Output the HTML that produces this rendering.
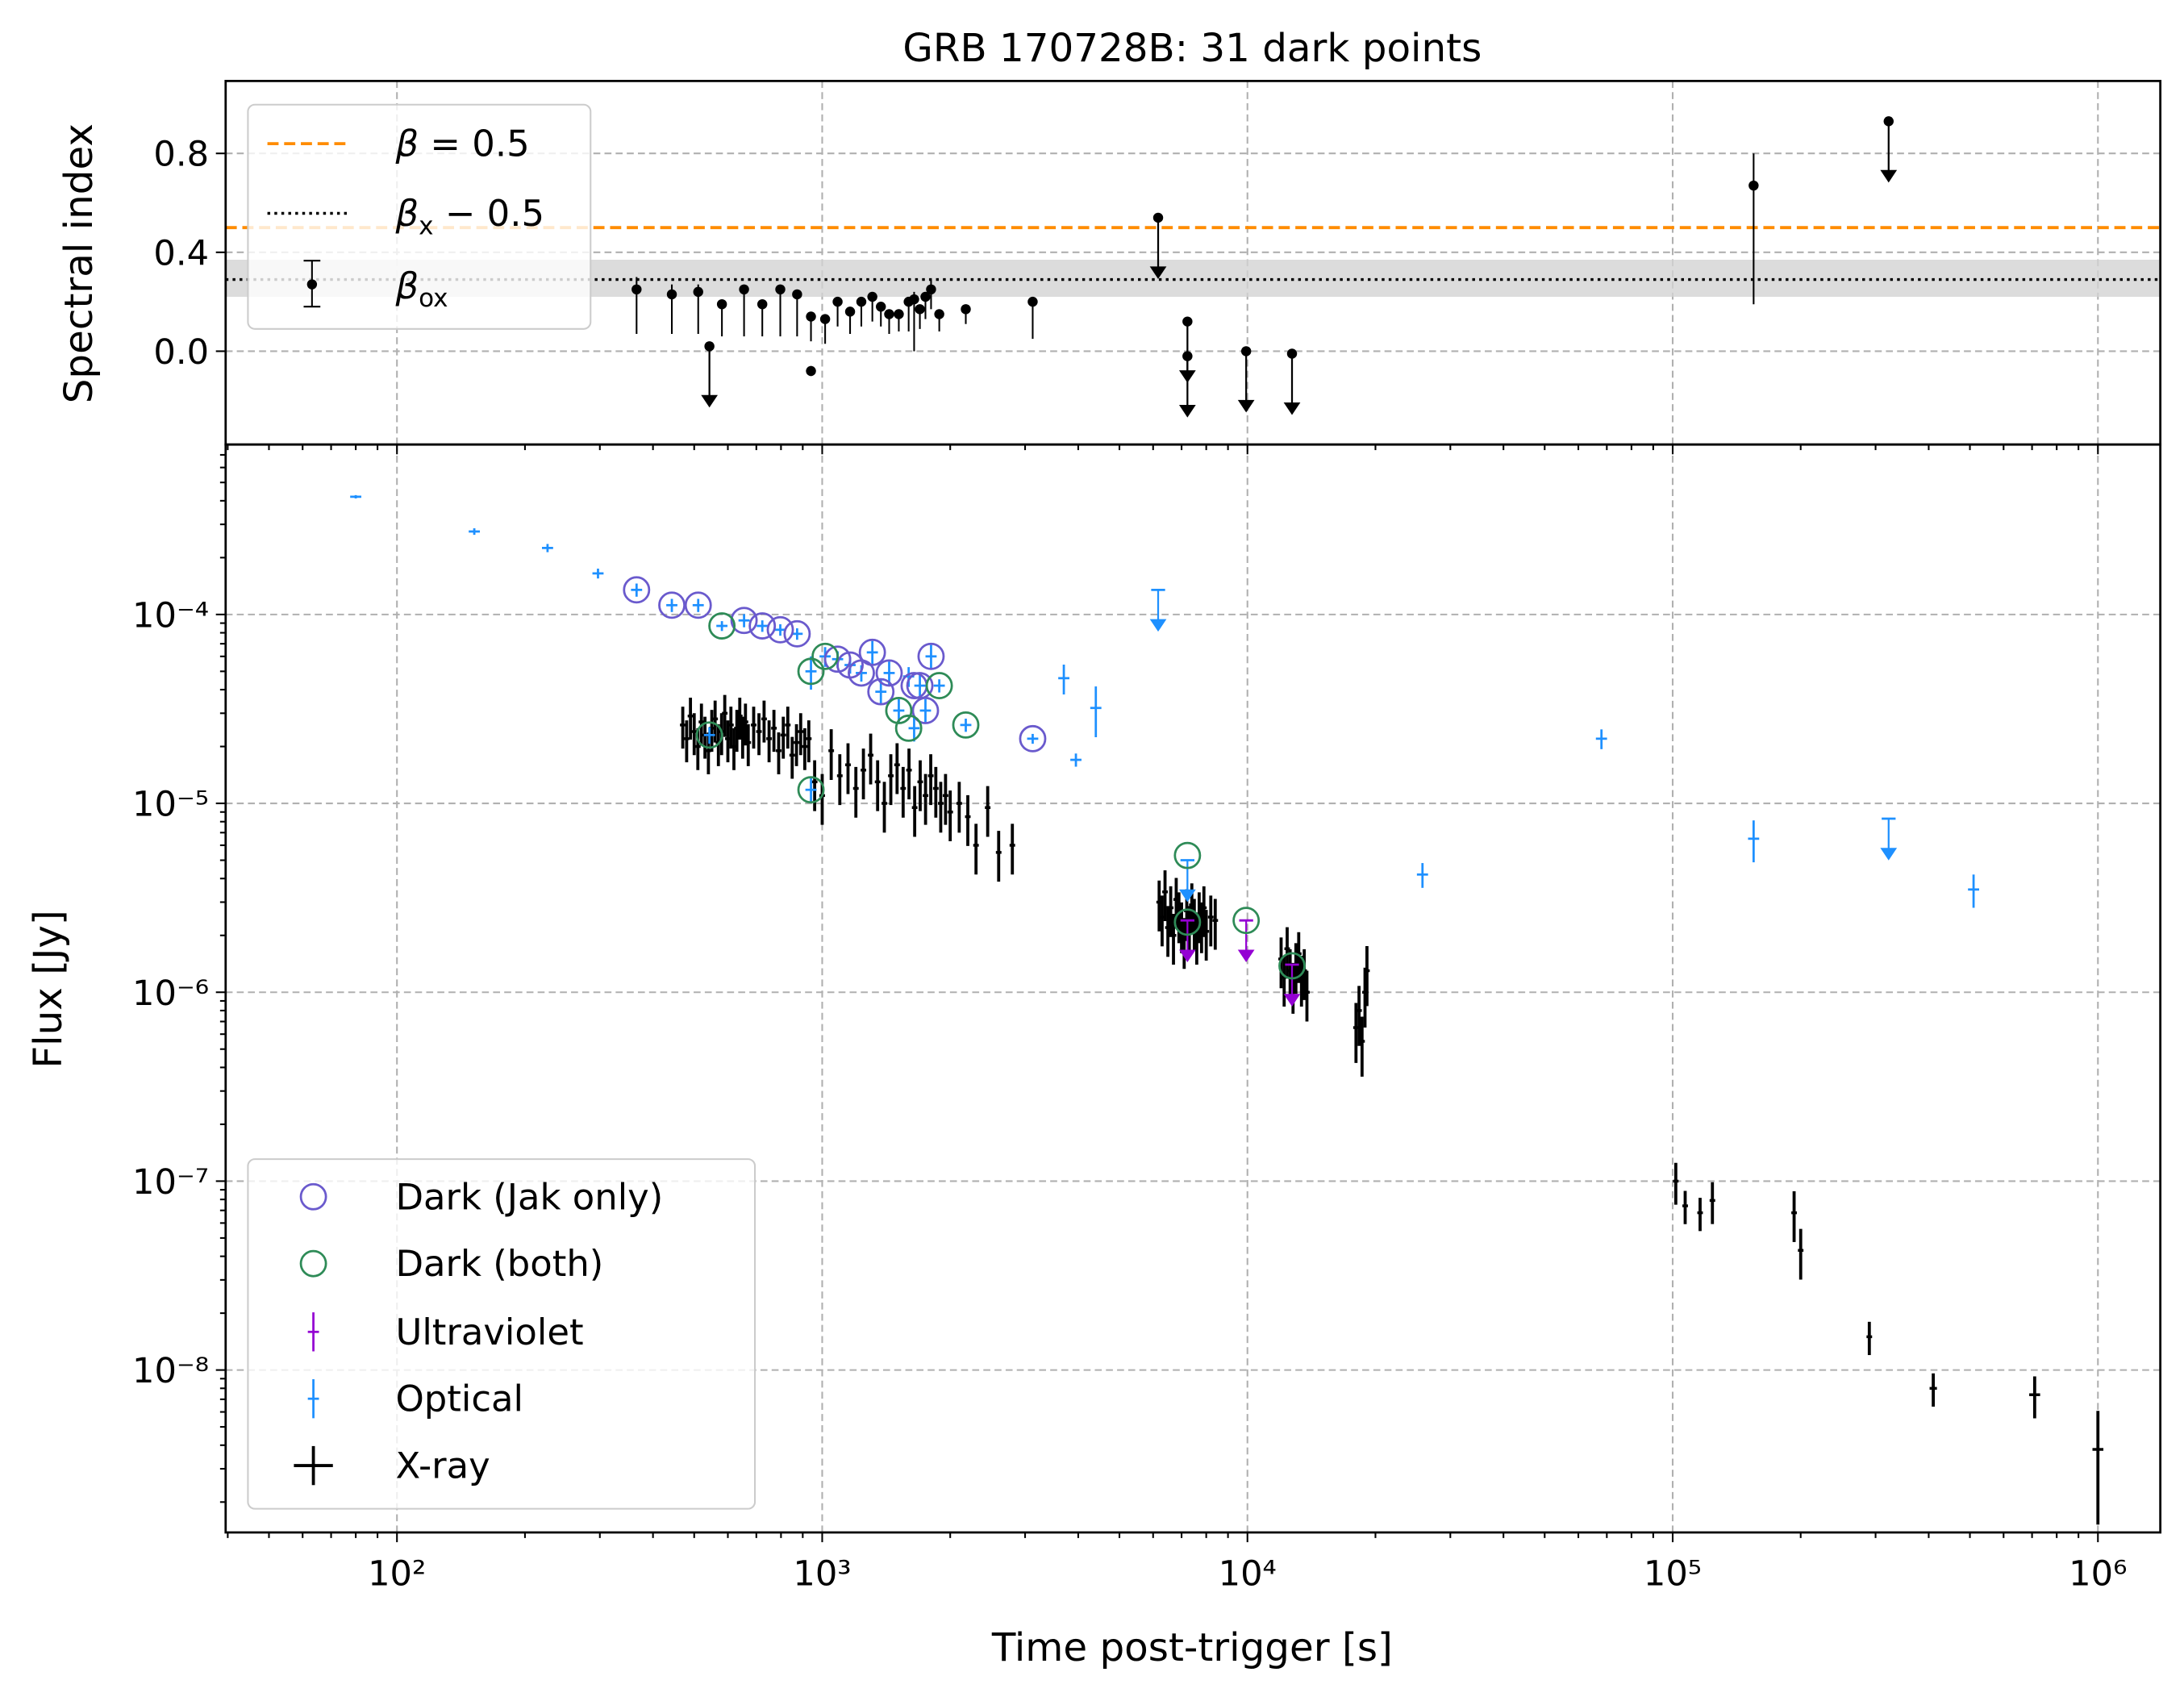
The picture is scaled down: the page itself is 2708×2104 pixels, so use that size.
<!DOCTYPE html>
<html><head><meta charset="utf-8"><style>
html,body{margin:0;padding:0;background:#fff}
svg{display:block;font-family:"DejaVu Sans","Liberation Sans",sans-serif}
</style></head><body>
<svg id="chart" width="2708" height="2104" viewBox="0 0 1568 1218" xmlns="http://www.w3.org/2000/svg"></svg>
<script>
// ---------- data ----------
const boxT = [366,443,511,581,655,723,797,873,941,941,1016,1087,1163,1236,1312,1374,1437,1514,1597,1645,1697,1749,1803,1885,2176,3126,155000];
const boxV = [0.25,0.23,0.24,0.19,0.25,0.19,0.25,0.23,0.14,-0.08,0.13,0.2,0.16,0.2,0.22,0.18,0.15,0.15,0.2,0.21,0.17,0.22,0.25,0.15,0.17,0.2,0.67];
const boxLo = [0.07,0.07,0.07,0.06,0.06,0.06,0.06,0.06,0.04,-0.1,0.03,0.1,0.07,0.1,0.12,0.1,0.07,0.08,0.08,0.0,0.09,0.13,0.17,0.08,0.11,0.05,0.19];
const boxHi = [0.3,0.27,0.27,0.2,0.26,0.2,0.26,0.24,0.15,-0.06,0.14,0.21,0.17,0.21,0.23,0.19,0.16,0.16,0.21,0.24,0.18,0.23,0.29,0.16,0.18,0.21,0.8];
const ulT = [543,6166,7226,7226,9931,12730,322000];
const ulV = [0.02,0.54,0.12,-0.02,0.0,-0.01,0.93];

const optT = [80,152,226,297,366,443,511,581,655,723,797,873,941,1016,1087,1163,1236,1312,1374,1437,1514,1597,1645,1697,1749,1803,1885,2176,3126,941,543,3700,3950,4400,25800,68000,155000,510000];
const optF = [4.2e-4,2.75e-4,2.25e-4,1.65e-4,1.35e-4,1.12e-4,1.12e-4,8.7e-5,9.3e-5,8.7e-5,8.3e-5,7.9e-5,5e-5,6e-5,5.8e-5,5.4e-5,4.9e-5,6.3e-5,3.9e-5,4.9e-5,3.1e-5,4.7e-5,2.5e-5,4.2e-5,3.1e-5,6e-5,4.2e-5,2.6e-5,2.2e-5,1.18e-5,2.3e-5,4.6e-5,1.7e-5,3.2e-5,4.2e-6,2.2e-5,6.5e-6,3.5e-6];
const optE = [0.02,0.04,0.05,0.06,0.08,0.08,0.08,0.06,0.08,0.07,0.07,0.07,0.2,0.12,0.1,0.1,0.1,0.15,0.15,0.15,0.15,0.12,0.15,0.15,0.15,0.15,0.08,0.08,0.06,0.15,0.1,0.18,0.08,0.3,0.15,0.12,0.25,0.2];
const optUlT = [6166,7226,322000];
const optUlF = [1.35e-4,5e-6,8.3e-6];
const uvUlT = [7226,9931,12730];
const uvUlF = [2.4e-6,2.4e-6,1.4e-6];

const jakT = [366,443,511,655,723,797,873,1087,1163,1236,1312,1374,1437,1645,1697,1749,1803,3126];
const jakF = [1.35e-4,1.12e-4,1.12e-4,9.3e-5,8.7e-5,8.3e-5,7.9e-5,5.8e-5,5.4e-5,4.9e-5,6.3e-5,3.9e-5,4.9e-5,4.2e-5,4.2e-5,3.1e-5,6e-5,2.2e-5];
const bothT = [543,581,941,941,1016,1514,1597,1885,2176,7226,7226,9931,12730];
const bothF = [2.3e-5,8.7e-5,5e-5,1.18e-5,6e-5,3.1e-5,2.5e-5,4.2e-5,2.6e-5,5.3e-6,2.35e-6,2.4e-6,1.38e-6];

const xrT = [470,480,490,500,510,520,530,540,550,560,570,580,590,600,610,620,630,640,650,660,670,690,710,730,750,770,790,810,830,850,870,890,910,930,
 960,1000,1050,1100,1150,1200,1250,1300,1350,1400,1450,1500,1550,1600,1650,1700,1750,1800,1850,1900,1950,2000,2100,2200,2300,2450,2600,2800,
 6200,6300,6400,6500,6600,6700,6800,6900,7000,7100,7200,7300,7400,7500,7600,7700,7800,7900,8000,8200,8400,
 12000,12200,12400,12600,12800,13000,13200,13400,13600,13800,
 18000,18300,18600,18900,19100,
 101700,107000,116000,124000,193000,200000,290000,410000,710000,1000000];
const xrF = [2.6e-5,2.2e-5,2.9e-5,2.4e-5,2.0e-5,2.7e-5,2.3e-5,1.9e-5,2.5e-5,2.8e-5,2.1e-5,2.4e-5,3.0e-5,2.2e-5,2.6e-5,2.0e-5,2.5e-5,2.9e-5,2.3e-5,2.7e-5,2.1e-5,2.6e-5,2.4e-5,2.8e-5,2.2e-5,2.5e-5,1.9e-5,2.3e-5,2.6e-5,1.8e-5,2.1e-5,2.4e-5,2.0e-5,2.2e-5,
 1.3e-5,1.1e-5,1.9e-5,1.4e-5,1.6e-5,1.2e-5,1.5e-5,1.8e-5,1.3e-5,1.0e-5,1.4e-5,1.6e-5,1.2e-5,1.5e-5,9.5e-6,1.3e-5,1.1e-5,1.4e-5,1.2e-5,1.0e-5,1.1e-5,9e-6,1.0e-5,8.5e-6,6e-6,9.5e-6,5.5e-6,6e-6,
 3.0e-6,2.5e-6,3.4e-6,2.2e-6,2.8e-6,2.0e-6,3.1e-6,2.6e-6,2.3e-6,1.9e-6,2.7e-6,2.2e-6,2.9e-6,2.4e-6,2.0e-6,2.6e-6,2.3e-6,2.8e-6,2.1e-6,2.5e-6,2.4e-6,
 1.5e-6,1.2e-6,1.7e-6,1.3e-6,1.1e-6,1.4e-6,1.6e-6,1.2e-6,1.3e-6,1.0e-6,
 6.5e-7,8e-7,5.5e-7,1.0e-6,1.3e-6,
 1.0e-7,7.4e-8,6.8e-8,7.9e-8,6.8e-8,4.3e-8,1.5e-8,8e-9,7.4e-9,3.8e-9];
const xrE = [0.25,0.25,0.25,0.25,0.25,0.25,0.25,0.25,0.25,0.25,0.25,0.25,0.25,0.25,0.25,0.25,0.25,0.25,0.25,0.25,0.25,0.25,0.25,0.25,0.25,0.25,0.25,0.25,0.25,0.25,0.25,0.25,0.25,0.25,
 0.3,0.3,0.3,0.3,0.3,0.3,0.3,0.3,0.3,0.3,0.3,0.3,0.3,0.3,0.3,0.3,0.3,0.3,0.3,0.3,0.3,0.3,0.3,0.3,0.3,0.3,0.3,0.3,
 0.3,0.3,0.3,0.3,0.3,0.3,0.3,0.3,0.3,0.3,0.3,0.3,0.3,0.3,0.3,0.3,0.3,0.3,0.3,0.3,0.3,
 0.3,0.3,0.3,0.3,0.3,0.3,0.3,0.3,0.3,0.3,
 0.35,0.35,0.35,0.35,0.35,
 0.25,0.2,0.2,0.25,0.3,0.3,0.2,0.2,0.25,0.6];
const xrW = [0,0,0,0,0,0,0,0,0,0,0,0,0,0,0,0,0,0,0,0,0,0,0,0,0,0,0,0,0,0,0,0,0,0,0,0,0,0,0,0,0,0,0,0,0,0,0,0,0,0,0,0,0,0,0,0,0,0,0,0,0,0,0,0,0,0,0,0,0,0,0,0,0,0,0,0,0,0,0,0,0,0,0,0,0,0,0,0,0,0,0,0,0,0,0,0,0,0,0,0,0,0,0,0,0,0.02,0.03,0.03,0.03,0.03];

const xTicks = [2,3,4,5,6];
const yTopTicks = [0.0,0.4,0.8];
const yBotTicks = [-4,-5,-6,-7,-8];

// ---------- axes ----------
const L=162,R=1551,T1=58,B1=319,T2=319,B2=1100;
const xs = t => 285 + (Math.log10(t)-2)*305.3;
const yT = v => 252 - v*177.5;
const yB = f => 441 - (Math.log10(f)+4)*135.6;
const NS="http://www.w3.org/2000/svg";
const svg=document.getElementById('chart');
function el(tag,attrs,parent,text){const e=document.createElementNS(NS,tag);for(const k in attrs)e.setAttribute(k,attrs[k]);if(text!==undefined)e.textContent=text;(parent||svg).appendChild(e);return e;}

el('rect',{x:0,y:0,width:1568,height:1218,fill:'#fff'});
const defs=el('defs',{});
const c1=el('clipPath',{id:'c1'},defs);el('rect',{x:L,y:T1,width:R-L,height:B1-T1},c1);
const c2=el('clipPath',{id:'c2'},defs);el('rect',{x:L,y:T2,width:R-L,height:B2-T2},c2);

const gTop=el('g',{'clip-path':'url(#c1)'});


const gBot=el('g',{'clip-path':'url(#c2)'});



for(const d of xTicks){const x=xs(Math.pow(10,d));
 const g1=el('line',{x1:x,x2:x,y1:T1,y2:B1,stroke:'#b0b0b0','stroke-width':1.2,'stroke-dasharray':'5,3'},gTop);
 
 const g2=el('line',{x1:x,x2:x,y1:T2,y2:B2,stroke:'#b0b0b0','stroke-width':1.2,'stroke-dasharray':'5,3'},gBot);
 }
for(const v of yTopTicks){const y=yT(v);const g=el('line',{x1:L,x2:R,y1:y,y2:y,stroke:'#b0b0b0','stroke-width':1.2,'stroke-dasharray':'5,3'},gTop);
 }
for(const d of yBotTicks){const y=yB(Math.pow(10,d));const g=el('line',{x1:L,x2:R,y1:y,y2:y,stroke:'#b0b0b0','stroke-width':1.2,'stroke-dasharray':'5,3'},gBot);
 }

const band=el('rect',{x:L,y:yT(0.37),width:R-L,height:yT(0.22)-yT(0.37),fill:'#d3d3d3','fill-opacity':0.8},gTop);

const ol=el('line',{x1:L,x2:R,y1:yT(0.5),y2:yT(0.5),stroke:'#ff8c00','stroke-width':2.2,'stroke-dasharray':'8,4'},gTop);

const bl=el('line',{x1:L,x2:R,y1:yT(0.29),y2:yT(0.29),stroke:'#000','stroke-width':2,'stroke-dasharray':'2,3'},gTop);


function arrow(g,x,y1,y2,color,name){
 const a=el('line',{x1:x,x2:x,y1:y1,y2:y2-7,stroke:color,'stroke-width':1.3},g);
 
 const p=el('path',{d:`M${x-6},${y2-9} L${x+6},${y2-9} L${x},${y2} Z`,fill:color},g);
 
}
for(let i=0;i<boxT.length;i++){const x=xs(boxT[i]);
 const e=el('line',{x1:x,x2:x,y1:yT(boxHi[i]),y2:yT(boxLo[i]),stroke:'#000','stroke-width':1.2},gTop);
 
 const c=el('circle',{cx:x,cy:yT(boxV[i]),r:3.6,fill:'#000'},gTop);
 }
for(let i=0;i<ulT.length;i++){const x=xs(ulT[i]);
 arrow(gTop,x,yT(ulV[i]),yT(ulV[i])+44,'#000','beta-ox-upper-limit');
 const c=el('circle',{cx:x,cy:yT(ulV[i]),r:3.6,fill:'#000'},gTop);
 }

for(let i=0;i<xrT.length;i++){const x=xs(xrT[i]),y=yB(xrF[i]);
 const e=el('line',{x1:x,x2:x,y1:yB(xrF[i]*(1+xrE[i])),y2:yB(xrF[i]*(1-xrE[i])),stroke:'#000','stroke-width':2.2},gBot);
 
 const w=xrW[i]>0?xs(xrT[i]*(1+xrW[i]))-x:2;
 const h=el('line',{x1:x-w,x2:x+w,y1:y,y2:y,stroke:'#000','stroke-width':2},gBot);
 }
for(let i=0;i<optT.length;i++){const x=xs(optT[i]),y=yB(optF[i]);
 const e=el('line',{x1:x,x2:x,y1:yB(optF[i]*(1+optE[i])),y2:yB(optF[i]*(1-optE[i])),stroke:'#1e90ff','stroke-width':1.6},gBot);
 
 const h=el('line',{x1:x-4,x2:x+4,y1:y,y2:y,stroke:'#1e90ff','stroke-width':1.6},gBot);
 }
for(let i=0;i<optUlT.length;i++){const x=xs(optUlT[i]),y=yB(optUlF[i]);
 const c=el('line',{x1:x-5,x2:x+5,y1:y,y2:y,stroke:'#1e90ff','stroke-width':1.6},gBot);
 
 arrow(gBot,x,y,y+30,'#1e90ff','optical-upper-limit');}
for(let i=0;i<uvUlT.length;i++){const x=xs(uvUlT[i]),y=yB(uvUlF[i]);
 const c=el('line',{x1:x-5,x2:x+5,y1:y,y2:y,stroke:'#9400d3','stroke-width':1.6},gBot);
 
 arrow(gBot,x,y,y+30,'#9400d3','uv-upper-limit');}
for(let i=0;i<jakT.length;i++){const c=el('circle',{cx:xs(jakT[i]),cy:yB(jakF[i]),r:9,fill:'none',stroke:'#6a5acd','stroke-width':1.6},gBot);
 }
for(let i=0;i<bothT.length;i++){const c=el('circle',{cx:xs(bothT[i]),cy:yB(bothF[i]),r:9,fill:'none',stroke:'#2e8b57','stroke-width':1.6},gBot);
 }

for(const [t,b,n] of [[T1,B1,'top-frame'],[T2,B2,'bottom-frame']]){const f=el('rect',{x:L,y:t,width:R-L,height:b-t,fill:'none',stroke:'#000','stroke-width':1.6});
 }

const sup={'2':'²','3':'³','4':'⁴','5':'⁵','6':'⁶','7':'⁷','8':'⁸'};
for(let d=1;d<=6;d++)for(let m=1;m<10;m++){const t=m*Math.pow(10,d);const x=xs(t);if(x<L||x>R)continue;const len=m===1?7:4;
 for(const yb of [B1,B2]){const k=el('line',{x1:x,x2:x,y1:yb,y2:yb+len,stroke:'#000','stroke-width':1.2});
  }}
for(const d of xTicks){const tx=el('text',{x:xs(Math.pow(10,d)),y:1138,'font-size':25,'text-anchor':'middle'},svg,'10'+sup[d]);
 }
for(const v of yTopTicks){const y=yT(v);el('line',{x1:L-7,x2:L,y1:y,y2:y,stroke:'#000','stroke-width':1.2});
 const tx=el('text',{x:L-12,y:y+9,'font-size':25,'text-anchor':'end'},svg,v.toFixed(1));
 }
for(let d=-9;d<=-3;d++)for(let m=1;m<10;m++){const y=yB(m*Math.pow(10,d));if(y<T2||y>B2)continue;const len=m===1?7:4;
 el('line',{x1:L-len,x2:L,y1:y,y2:y,stroke:'#000','stroke-width':1.2});}
for(const d of yBotTicks){const y=yB(Math.pow(10,d));
 const tx=el('text',{x:L-12,y:y+9,'font-size':25,'text-anchor':'end'},svg,'10⁻'+sup[String(-d)]);
 }

let t;
t=el('text',{x:856,y:44,'font-size':28,'text-anchor':'middle'},svg,'GRB 170728B: 31 dark points');
t=el('text',{x:856,y:1192,'font-size':28,'text-anchor':'middle'},svg,'Time post-trigger [s]');
t=el('text',{x:0,y:0,'font-size':28,'text-anchor':'middle',transform:'translate(66,189) rotate(-90)'},svg,'Spectral index');
t=el('text',{x:0,y:0,'font-size':28,'text-anchor':'middle',transform:'translate(44,710) rotate(-90)'},svg,'Flux [Jy]');
</script>
<script>
(function(){
const NS="http://www.w3.org/2000/svg";const svg=document.getElementById('chart');
function el(tag,attrs,parent,text){const e=document.createElementNS(NS,tag);for(const k in attrs)e.setAttribute(k,attrs[k]);if(text!==undefined)e.textContent=text;(parent||svg).appendChild(e);return e;}
const lg=el('g',{});
el('rect',{x:178,y:75,width:246,height:161,rx:5,fill:'#fff','fill-opacity':0.8,stroke:'#ccc','stroke-width':1.2},lg);
el('line',{x1:192,x2:252,y1:103,y2:103,stroke:'#ff8c00','stroke-width':2.2,'stroke-dasharray':'8,4'},lg);
let e=el('text',{x:284,y:112,'font-size':26},lg);e.innerHTML='<tspan font-style="italic">β</tspan> = 0.5';
el('line',{x1:192,x2:252,y1:153,y2:153,stroke:'#000','stroke-width':2,'stroke-dasharray':'2,3'},lg);
e=el('text',{x:284,y:162,'font-size':26},lg);e.innerHTML='<tspan font-style="italic">β</tspan><tspan font-size="18" dy="6">x</tspan><tspan dy="-6"> − 0.5</tspan>';
el('line',{x1:224,x2:224,y1:187,y2:220,stroke:'#000','stroke-width':1.2},lg);
el('line',{x1:218,x2:230,y1:187,y2:187,stroke:'#000','stroke-width':1.2},lg);
el('line',{x1:218,x2:230,y1:220,y2:220,stroke:'#000','stroke-width':1.2},lg);
el('circle',{cx:224,cy:204,r:3.6,fill:'#000'},lg);
e=el('text',{x:284,y:214,'font-size':26},lg);e.innerHTML='<tspan font-style="italic">β</tspan><tspan font-size="18" dy="6">ox</tspan>';

const bg=el('g',{});
el('rect',{x:178,y:832,width:364,height:251,rx:5,fill:'#fff','fill-opacity':0.8,stroke:'#ccc','stroke-width':1.2},bg);
const rows=[['Dark (Jak only)',859],['Dark (both)',907],['Ultraviolet',956],['Optical',1004],['X-ray',1052]];
el('circle',{cx:225,cy:859,r:9,fill:'none',stroke:'#6a5acd','stroke-width':1.6},bg);
el('circle',{cx:225,cy:907,r:9,fill:'none',stroke:'#2e8b57','stroke-width':1.6},bg);
el('line',{x1:225,x2:225,y1:942,y2:970,stroke:'#9400d3','stroke-width':1.6},bg);el('line',{x1:221,x2:229,y1:956,y2:956,stroke:'#9400d3','stroke-width':1.6},bg);
el('line',{x1:225,x2:225,y1:990,y2:1018,stroke:'#1e90ff','stroke-width':1.6},bg);el('line',{x1:221,x2:229,y1:1004,y2:1004,stroke:'#1e90ff','stroke-width':1.6},bg);
el('line',{x1:225,x2:225,y1:1038,y2:1066,stroke:'#000','stroke-width':2.2},bg);el('line',{x1:211,x2:239,y1:1052,y2:1052,stroke:'#000','stroke-width':2.2},bg);
for(const [s,y] of rows){const tx=el('text',{x:284,y:y+9,'font-size':26},bg,s);
 
 }
})();
</script>
</body></html>
